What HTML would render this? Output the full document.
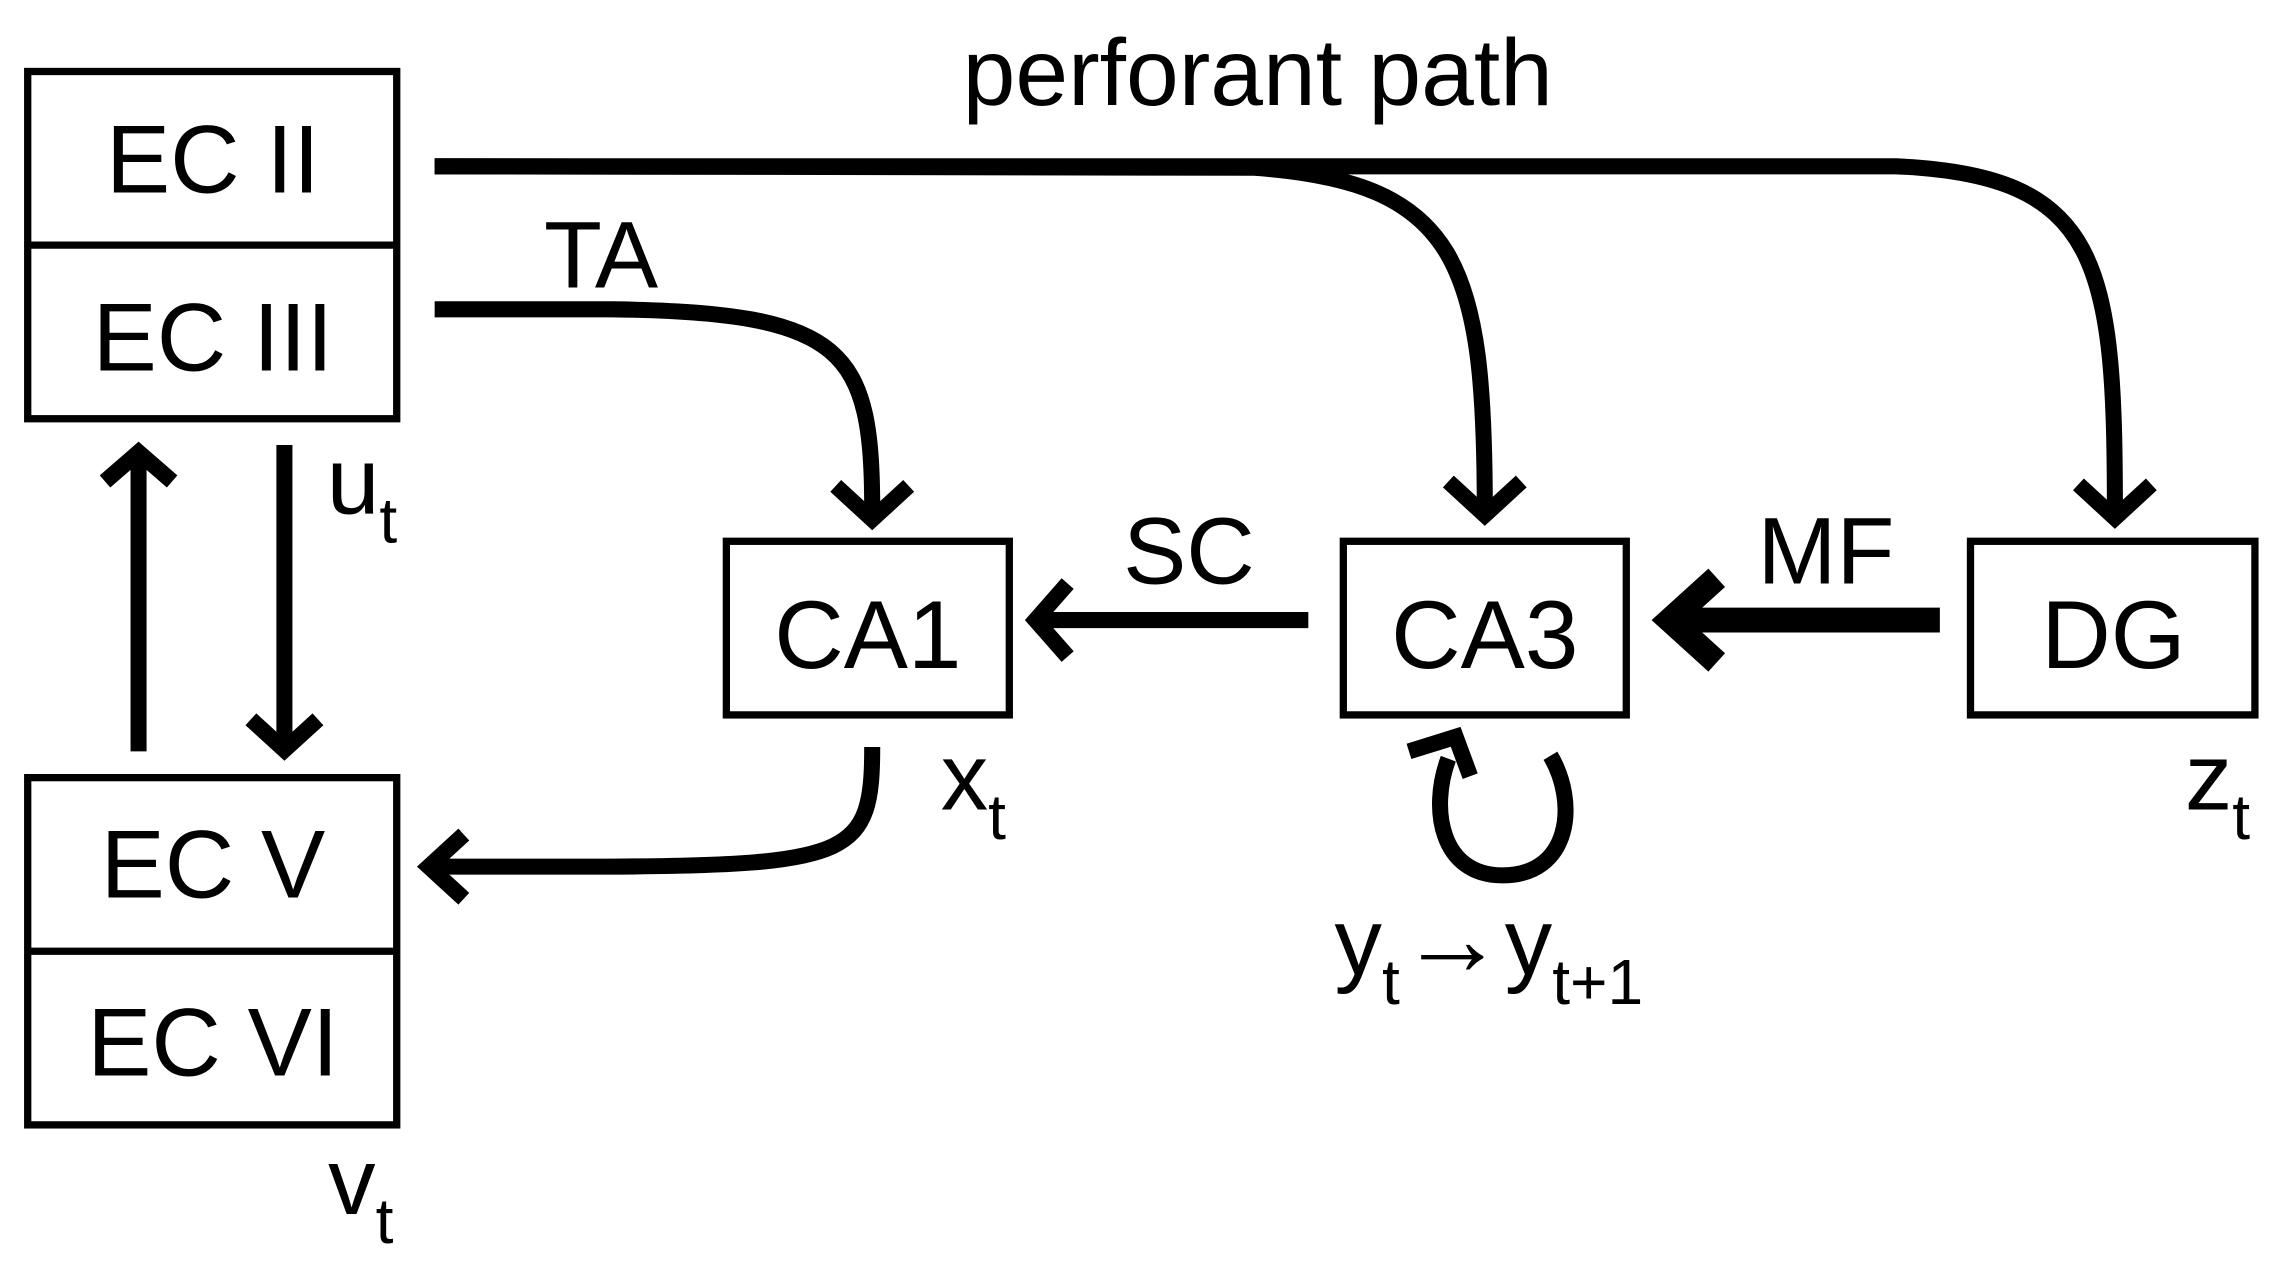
<!DOCTYPE html>
<html><head><meta charset="utf-8"><style>html,body{margin:0;padding:0;background:#fff}svg{display:block}</style></head>
<body>
<svg width="2287" height="1281" viewBox="0 0 1568 878" preserveAspectRatio="none" xmlns="http://www.w3.org/2000/svg" font-family="Liberation Sans, Arial, sans-serif">
<rect width="1568" height="878" fill="#fff"/>
<g fill="none" stroke="#000" stroke-width="5">
<rect x="19" y="49" width="253" height="238"/>
<line x1="19" y1="168" x2="272" y2="168"/>
<rect x="19" y="533" width="253" height="238"/>
<line x1="19" y1="652" x2="272" y2="652"/>
<rect x="498" y="371" width="194" height="119"/>
<rect x="921" y="371" width="194" height="119"/>
<rect x="1351" y="371" width="195" height="119"/>
</g>
<g fill="none" stroke="#000" stroke-width="11">
<path d="M298 114 L1300 114 C1440 120 1450 180 1450 350"/>
<path d="M298 114 L860 115 C1000 125 1018 180 1018 350"/>
<path d="M298 212 L420 212 C580 214 598 240 598 350"/>
<line x1="897" y1="425" x2="715" y2="425"/>
<line x1="195" y1="305" x2="195" y2="515"/>
<line x1="95" y1="515" x2="95" y2="312"/>
<path d="M598 512 C598 585 585 593 420 594 L296 594"/>
<polyline points="1425,332 1450,355 1475,332"/>
<polyline points="993,330 1018,353 1043,330"/>
<polyline points="573,333 598,356 623,333"/>
<polyline points="732,400 710,425 732,450"/>
<polyline points="172,493 195,514 218,493"/>
<polyline points="72,330 95,310 118,330"/>
<polyline points="318,572 294,594 318,616"/>
<path d="M1063 518 C1082 550 1077 600 1030 600 C988 600 980 555 993 520"/>
<polyline points="966,515 998,505 1008,532"/>
</g>
<line x1="1330" y1="425" x2="1155" y2="425" stroke="#000" stroke-width="17"/>
<polyline points="1177,396 1145,425 1177,454" fill="none" stroke="#000" stroke-width="17"/>
<g fill="#000" font-size="66" text-anchor="middle">
<text x="146" y="132">EC II</text>
<text x="146" y="254">EC III</text>
<text x="146" y="615">EC V</text>
<text x="146" y="737">EC VI</text>
<text x="595" y="458">CA1</text>
<text x="1018" y="458">CA3</text>
<text x="1449" y="458">DG</text>
</g>
<g fill="#000" font-size="65">
<text x="660" y="72">perforant path</text>
<text x="373" y="197">TA</text>
<text x="770" y="400">SC</text>
<text x="1205" y="400">MF</text>
<text x="224" y="352">u<tspan font-size="44" dy="20">t</tspan></text>
<text x="645" y="555">x<tspan font-size="44" dy="20">t</tspan></text>
<text x="1498" y="555">z<tspan font-size="44" dy="20">t</tspan></text>
<text x="225" y="832">v<tspan font-size="44" dy="20">t</tspan></text>
<text x="915" y="668">y<tspan font-size="44" dy="20">t</tspan><tspan dy="-20" font-size="72">→</tspan>y<tspan font-size="44" dy="20">t+1</tspan></text>
</g>
</svg>
</body></html>
